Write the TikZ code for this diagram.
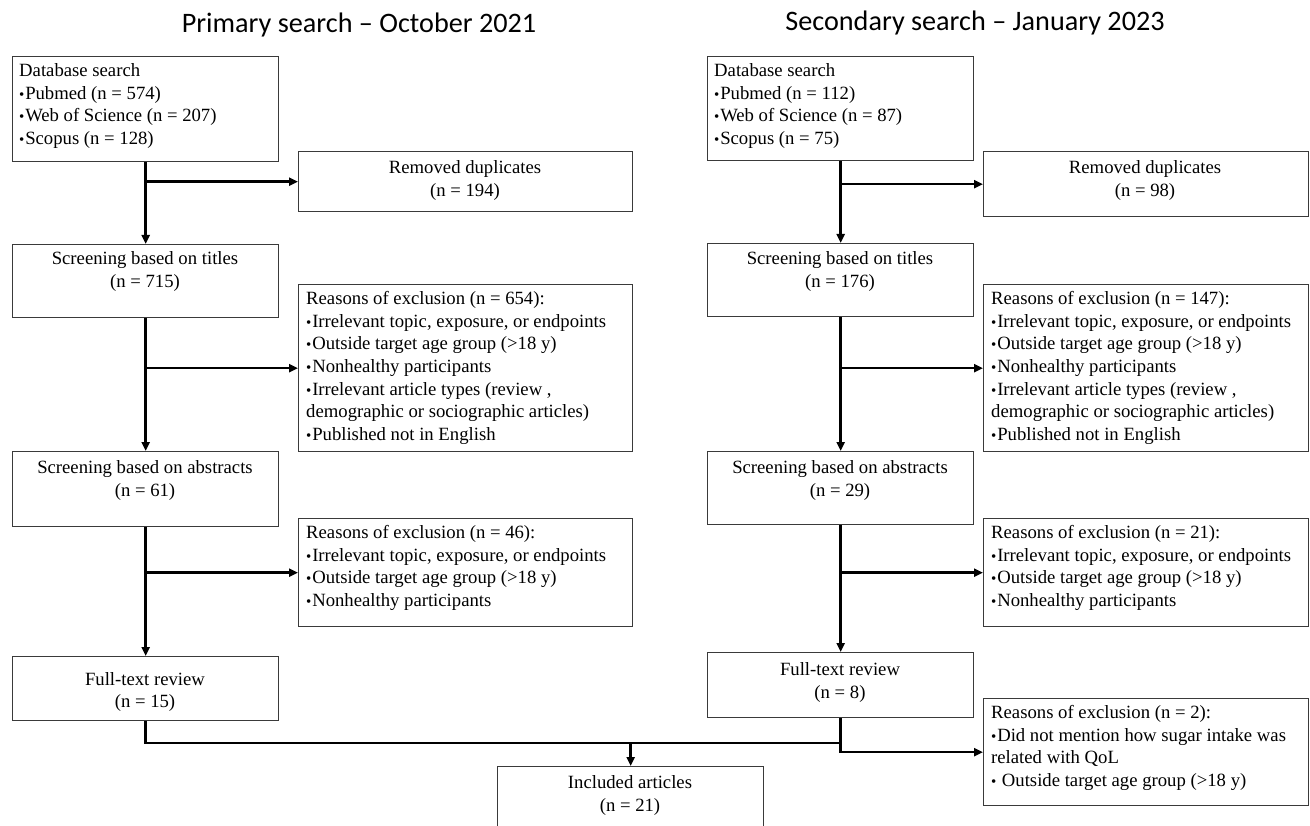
\documentclass[tikz,border=0pt]{standalone}
\usepackage{fontspec}
\setmainfont{Liberation Serif}
\newfontfamily\titlefont{Carlito}
\usetikzlibrary{arrows.meta}
\definecolor{boxgray}{HTML}{3A3A3A}
\newcommand{\Ln}{\strut}
\newcommand{\bul}{{\fontsize{15}{15}\selectfont•}\kern0.8pt}
\begin{document}
\begin{tikzpicture}[x=1pt,y=-1pt,
  box/.style={draw=boxgray,line width=1.3pt,rectangle,inner sep=0pt,anchor=north west},
  txt/.style={inner sep=0pt,font=\fontsize{18.7}{22.6}\selectfont},
  ltxt/.style={txt,anchor=north west,align=left},
  ctxt/.style={txt,anchor=north,align=center},
  ttl/.style={inner sep=0pt,anchor=base,font=\titlefont\fontsize{28.2}{33}\selectfont},
  conn/.style={line width=2.6pt},
  arr/.style={conn,-{Triangle[length=9pt,width=8pt]}}]
\useasboundingbox (0,0) rectangle (1310,826);
\clip (0,0) rectangle (1310,826);
% titles
\node[ttl] (tL) at (359,33) {Primary search – October 2021};
\node[ttl] (tR) at (975,31) {Secondary search – January 2023};
% left column
\node[box,minimum width=266pt,minimum height=105pt] (dbL) at (12,56) {};
\node[ltxt] (dbLt) at (19,60.75) {\Ln Database search\\\Ln\bul Pubmed (n = 574)\\\Ln\bul Web of Science (n = 207)\\\Ln\bul Scopus (n = 128)};
\node[box,minimum width=334pt,minimum height=60pt] (remL) at (298,151) {};
\node[ctxt] (remLt) at (465,157.75) {\Ln Removed duplicates\\\Ln(n = 194)};
\node[box,minimum width=266pt,minimum height=73pt] (titL) at (12,244) {};
\node[ctxt] (titLt) at (145,248.75) {\Ln Screening based on titles\\\Ln(n = 715)};
\node[box,minimum width=334pt,minimum height=167pt] (exaL) at (298,284) {};
\node[ltxt] (exaLt) at (306,288.75) {\Ln Reasons of exclusion (n = 654):\\\Ln\bul Irrelevant topic, exposure, or endpoints\\\Ln\bul Outside target age group (>18 y)\\\Ln\bul Nonhealthy participants\\\Ln\bul Irrelevant article types (review ,\\\Ln demographic or sociographic articles)\\\Ln\bul Published not in English};
\node[box,minimum width=266pt,minimum height=75pt] (absL) at (12,451) {};
\node[ctxt] (absLt) at (145,457.75) {\Ln Screening based on abstracts\\\Ln(n = 61)};
\node[box,minimum width=334pt,minimum height=108pt] (exbL) at (298,518) {};
\node[ltxt] (exbLt) at (306,522.75) {\Ln Reasons of exclusion (n = 46):\\\Ln\bul Irrelevant topic, exposure, or endpoints\\\Ln\bul Outside target age group (>18 y)\\\Ln\bul Nonhealthy participants};
\node[box,minimum width=266pt,minimum height=64pt] (ftL) at (12,656) {};
\node[ctxt] (ftLt) at (145,669) {\Ln Full-text review\\\Ln(n = 15)};
% right column
\node[box,minimum width=266pt,minimum height=104pt] (dbR) at (707,56) {};
\node[ltxt] (dbRt) at (714,60.75) {\Ln Database search\\\Ln\bul Pubmed (n = 112)\\\Ln\bul Web of Science (n = 87)\\\Ln\bul Scopus (n = 75)};
\node[box,minimum width=325pt,minimum height=65pt] (remR) at (983,151) {};
\node[ctxt] (remRt) at (1145,157.75) {\Ln Removed duplicates\\\Ln(n = 98)};
\node[box,minimum width=266pt,minimum height=73pt] (titR) at (707,243) {};
\node[ctxt] (titRt) at (840,248.75) {\Ln Screening based on titles\\\Ln(n = 176)};
\node[box,minimum width=325pt,minimum height=167pt] (exaR) at (983,284) {};
\node[ltxt] (exaRt) at (991,288.75) {\Ln Reasons of exclusion (n = 147):\\\Ln\bul Irrelevant topic, exposure, or endpoints\\\Ln\bul Outside target age group (>18 y)\\\Ln\bul Nonhealthy participants\\\Ln\bul Irrelevant article types (review ,\\\Ln demographic or sociographic articles)\\\Ln\bul Published not in English};
\node[box,minimum width=266pt,minimum height=73pt] (absR) at (707,451) {};
\node[ctxt] (absRt) at (840,457.75) {\Ln Screening based on abstracts\\\Ln(n = 29)};
\node[box,minimum width=325pt,minimum height=108pt] (exbR) at (983,518) {};
\node[ltxt] (exbRt) at (991,522.75) {\Ln Reasons of exclusion (n = 21):\\\Ln\bul Irrelevant topic, exposure, or endpoints\\\Ln\bul Outside target age group (>18 y)\\\Ln\bul Nonhealthy participants};
\node[box,minimum width=266pt,minimum height=65pt] (ftR) at (707,652) {};
\node[ctxt] (ftRt) at (840,659.75) {\Ln Full-text review\\\Ln(n = 8)};
\node[box,minimum width=325pt,minimum height=107pt] (excR) at (983,698) {};
\node[ltxt] (excRt) at (991,702.75) {\Ln Reasons of exclusion (n = 2):\\\Ln\bul Did not mention how sugar intake was\\\Ln related with QoL\\\Ln\bul\ Outside target age group (>18 y)};
% included
\node[box,minimum width=266pt,minimum height=80pt] (incl) at (497,766) {};
\node[ctxt] (inclt) at (630,772.75) {\Ln Included articles\\\Ln(n = 21)};
% connectors left
\draw[arr] (dbL.south) -- (titL.north);
\draw[arr] (dbL.south |- remL.west) -- (remL.west);
\draw[arr] (titL.south) -- (absL.north);
\draw[arr] (titL.south |- exaL.west) -- (exaL.west);
\draw[arr] (absL.south) -- (ftL.north);
\draw[arr] (absL.south |- exbL.west) -- (exbL.west);
% connectors right
\draw[arr] (dbR.south) -- (titR.north);
\draw[arr] (dbR.south |- remR.west) -- (remR.west);
\draw[arr] (titR.south) -- (absR.north);
\draw[arr] (titR.south |- exaR.west) -- (exaR.west);
\draw[arr] (absR.south) -- (ftR.north);
\draw[arr] (absR.south |- exbR.west) -- (exbR.west);
% join
\coordinate (jR) at (840,743);
\draw[conn] (ftL.south) |- (jR);
\draw[arr] (ftR.south) |- (excR.west);
\draw[arr] (incl.north |- jR) -- (incl.north);
\end{tikzpicture}
\end{document}
